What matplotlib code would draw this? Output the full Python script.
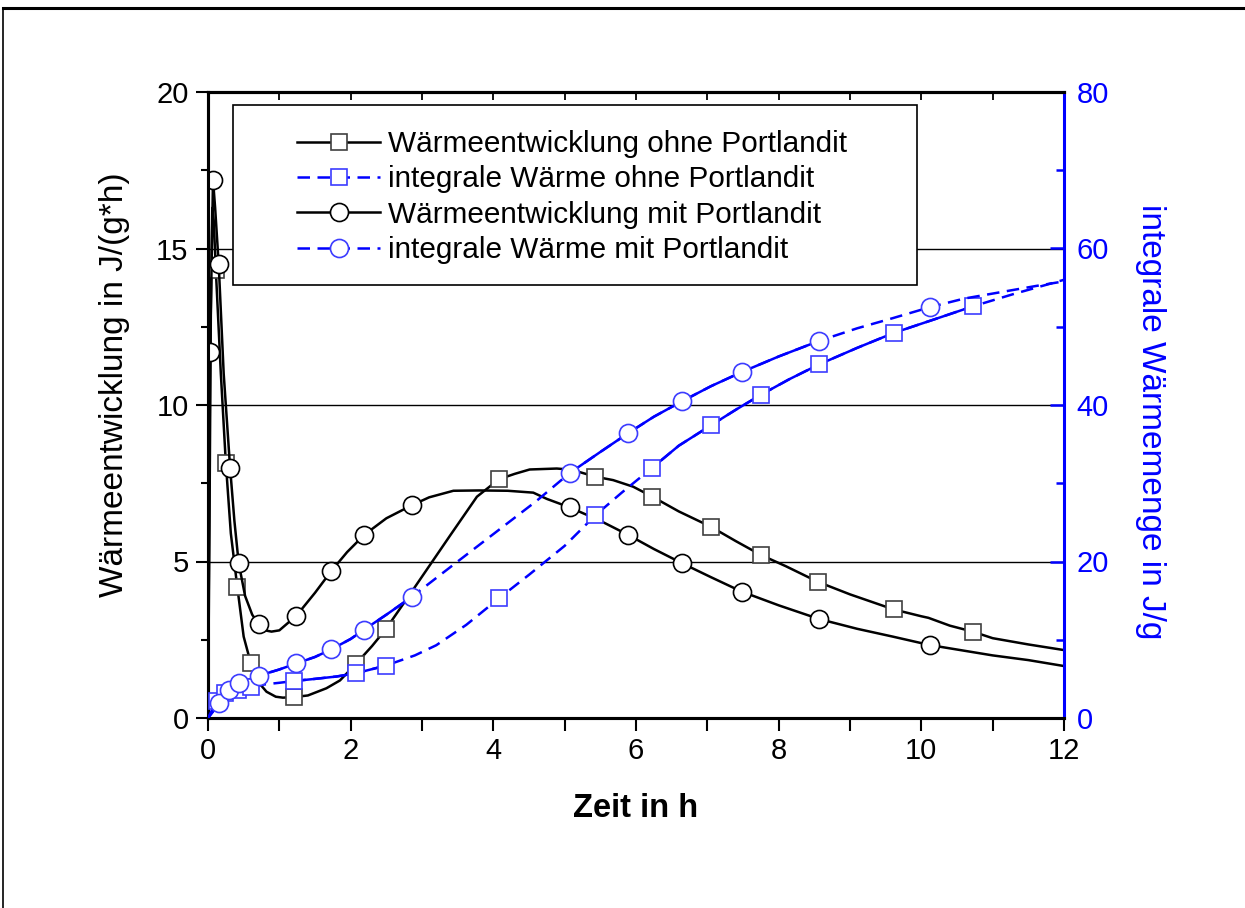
import numpy as np
import matplotlib.pyplot as plt
from matplotlib.lines import Line2D
from matplotlib.patches import Rectangle
from matplotlib.ticker import MultipleLocator

plt.rcParams['font.family'] = ['Liberation Sans', 'DejaVu Sans']

# Wärmeentwicklung ohne Portlandit, J/(g*h)
t_ohne = np.array([0, 0.02, 0.04, 0.06, 0.08, 0.11, 0.18, 0.25, 0.32, 0.41, 0.5, 0.6, 0.7, 0.82,
                   0.95, 1.05, 1.21, 1.4, 1.66, 1.85, 2.07, 2.3, 2.49, 2.8, 3.1, 3.4, 3.77, 4.08,
                   4.3, 4.51, 4.89, 5.1, 5.43, 5.68, 5.96, 6.23, 6.6, 7.05, 7.4, 7.75, 8.1, 8.55,
                   9.0, 9.61, 10.0, 10.1, 10.4, 10.72, 11.0, 11.5, 12.0])
q_ohne = np.array([0, 6.0, 13.0, 16.3, 15.9, 14.3, 11.0, 8.15, 5.9, 4.2, 2.6, 1.75, 1.16, 0.84,
                   0.68, 0.65, 0.67, 0.72, 0.95, 1.2, 1.72, 2.3, 2.83, 3.85, 4.85, 5.85, 7.07, 7.63,
                   7.8, 7.94, 7.97, 7.93, 7.71, 7.6, 7.39, 7.07, 6.6, 6.11, 5.65, 5.21, 4.85, 4.35,
                   3.95, 3.47, 3.25, 3.2, 2.95, 2.76, 2.55, 2.35, 2.17])
mk_ohne = [0.11, 0.25, 0.41, 0.6, 1.21, 2.07, 2.49, 4.08, 5.43, 6.23, 7.05, 7.75, 8.55, 9.61, 10.72]

# Wärmeentwicklung mit Portlandit, J/(g*h)
t_mit = np.array([0, 0.03, 0.07, 0.1, 0.15, 0.22, 0.31, 0.37, 0.43, 0.52, 0.62, 0.71, 0.8, 0.89,
                  1.0, 1.24, 1.5, 1.73, 1.95, 2.19, 2.5, 2.86, 3.1, 3.44, 3.8, 4.2, 4.56, 4.75,
                  5.07, 5.5, 5.89, 6.25, 6.65, 7.05, 7.48, 8.0, 8.57, 9.1, 9.6, 10.12, 10.6, 11.0,
                  11.5, 12.0])
q_mit = np.array([0, 11.7, 17.2, 16.3, 14.5, 11.0, 7.99, 6.3, 4.95, 3.9, 3.3, 3.0, 2.8, 2.76,
                  2.8, 3.27, 4.0, 4.7, 5.3, 5.85, 6.38, 6.8, 7.05, 7.26, 7.27, 7.26, 7.2, 7.0,
                  6.73, 6.3, 5.85, 5.4, 4.94, 4.5, 4.04, 3.6, 3.16, 2.85, 2.6, 2.33, 2.15, 2.0,
                  1.85, 1.66])
mk_mit = [0.03, 0.07, 0.15, 0.31, 0.43, 0.71, 1.24, 1.73, 2.19, 2.86, 5.07, 5.89, 6.65, 7.48,
          8.57, 10.12]

# integrale Wärme ohne Portlandit, J/g
ti_ohne = np.array([0, 0.05, 0.12, 0.24, 0.42, 0.6, 0.8, 1.0, 1.21, 1.5, 1.8, 2.07, 2.49, 2.9,
                    3.2, 3.62, 4.08, 4.5, 5.0, 5.43, 5.8, 6.23, 6.6, 7.05, 7.4, 7.75, 8.15, 8.57,
                    9.1, 9.61, 10.2, 10.72, 11.3, 12.0])
Q_ohne = np.array([0, 0.9, 2.2, 3.16, 3.58, 4.0, 4.3, 4.5, 4.73, 5.0, 5.3, 5.71, 6.69, 8.0,
                   9.3, 11.9, 15.3, 18.3, 22.0, 25.9, 28.8, 32.0, 34.8, 37.4, 39.4, 41.3, 43.3, 45.2,
                   47.3, 49.2, 51.0, 52.6, 54.2, 56.0])
mki_ohne = [0.12, 0.24, 0.42, 0.6, 1.21, 2.07, 2.49, 4.08, 5.43, 6.23, 7.05, 7.75, 8.57, 9.61, 10.72]
solid_ohne = [(1.21, 2.49), (6.23, 10.72)]

# integrale Wärme mit Portlandit, J/g
ti_mit = np.array([0, 0.05, 0.16, 0.3, 0.44, 0.71, 1.0, 1.24, 1.5, 1.73, 2.0, 2.19, 2.5, 2.86,
                   3.3, 3.7, 4.1, 4.6, 5.07, 5.5, 5.89, 6.25, 6.65, 7.05, 7.48, 8.0, 8.57, 9.1,
                   9.6, 10.12, 10.6, 11.1, 11.6, 12.0])
Q_mit = np.array([0, 0.6, 1.88, 3.58, 4.43, 5.4, 6.2, 6.98, 7.8, 8.78, 10.1, 11.3, 13.2, 15.5,
                  18.6, 21.4, 24.2, 27.7, 31.3, 34.0, 36.4, 38.5, 40.5, 42.4, 44.2, 46.2, 48.2, 49.8,
                  51.1, 52.5, 53.6, 54.4, 55.2, 55.8])
mki_mit = [0.16, 0.3, 0.44, 0.71, 1.24, 1.73, 2.19, 2.86, 5.07, 5.89, 6.65, 7.48, 8.57, 10.12]
solid_mit = [(0.0, 2.86), (5.07, 8.57)]

labels = ['Wärmeentwicklung ohne Portlandit', 'integrale Wärme ohne Portlandit',
          'Wärmeentwicklung mit Portlandit', 'integrale Wärme mit Portlandit']

BLUE = '#0000ff'
MBLUE = '#3c3cff'


def idx(t, marks):
    return [int(np.argmin(np.abs(t - m))) for m in marks]


fig = plt.figure(figsize=(12.45, 9.08), dpi=100)
ax = fig.add_axes([208 / 1245, 1 - 718 / 908, 856 / 1245, 626 / 908])
ax2 = ax.twinx()

sq = dict(marker='s', markersize=11, markerfacecolor='white', markeredgewidth=1.2)
ci = dict(marker='o', markersize=13, markerfacecolor='white', markeredgewidth=1.2)

h1, = ax.plot(t_ohne, q_ohne, '-', color='black', lw=1.8, markevery=idx(t_ohne, mk_ohne),
              markeredgecolor='#404040', zorder=3, **sq)
h3, = ax.plot(t_mit, q_mit, '-', color='black', lw=1.8, markevery=idx(t_mit, mk_mit),
              markeredgecolor='black', zorder=3, **ci)

h2, = ax2.plot(ti_ohne, Q_ohne, color=BLUE, lw=1.8, dashes=(5, 3), markevery=idx(ti_ohne, mki_ohne),
               markeredgecolor=MBLUE, zorder=3, **sq)
h4, = ax2.plot(ti_mit, Q_mit, color=BLUE, lw=1.8, dashes=(5, 3), markevery=idx(ti_mit, mki_mit),
               markeredgecolor=MBLUE, zorder=3, **ci)
for t, Q, spans in [(ti_ohne, Q_ohne, solid_ohne), (ti_mit, Q_mit, solid_mit)]:
    for a, b in spans:
        m = (t >= a - 1e-9) & (t <= b + 1e-9)
        ax2.plot(t[m], Q[m], '-', color=BLUE, lw=1.8, zorder=2)

# axes limits and ticks
ax.set_xlim(0, 12)
ax.set_ylim(0, 20)
ax2.set_ylim(0, 80)
ax.xaxis.set_major_locator(MultipleLocator(2))
ax.xaxis.set_minor_locator(MultipleLocator(1))
ax.yaxis.set_major_locator(MultipleLocator(5))
ax.yaxis.set_minor_locator(MultipleLocator(2.5))
ax2.yaxis.set_major_locator(MultipleLocator(20))
ax2.yaxis.set_minor_locator(MultipleLocator(10))

ax.tick_params(axis='both', which='major', direction='out', length=9, width=1.5,
               labelsize=21, pad=5)
ax.tick_params(axis='both', which='minor', direction='out', length=9, width=1.5)
ax.tick_params(axis='y', which='minor', length=5)
ax.tick_params(axis='y', right=False, which='both')
ax2.tick_params(axis='y', which='major', direction='in', length=10, width=1.8,
                colors=BLUE, labelsize=21, pad=9)
ax2.tick_params(axis='y', which='minor', direction='in', length=6, width=1.8, colors=BLUE)

top = ax.secondary_xaxis('top')
top.xaxis.set_major_locator(MultipleLocator(1))
top.tick_params(direction='in', length=6, width=1.3, labeltop=False)
top.spines['top'].set_linewidth(2.2)

for s in ['left', 'bottom', 'top']:
    ax.spines[s].set_linewidth(2.2)
    ax2.spines[s].set_linewidth(2.2)
ax2.spines['right'].set_linewidth(2.2)
ax2.spines['right'].set_color(BLUE)

ax.grid(axis='y', which='major', color='black', lw=1.0)
ax.set_axisbelow(True)

ax.set_xlabel('Zeit in h', fontsize=23.5, fontweight='bold', labelpad=20)
ax.set_ylabel('Wärmeentwicklung in J/(g*h)', fontsize=24, labelpad=19)
ax.yaxis.label.set_y(0.532)
ax2.set_ylabel('integrale Wärmemenge in J/g', fontsize=24, color=BLUE, rotation=270, labelpad=41)
ax2.yaxis.label.set_y(0.473)

# legend box
ax2.add_patch(Rectangle((25 / 856, (718 - 285) / 626), 684 / 856, 180 / 626,
                        transform=ax2.transAxes, facecolor='white', edgecolor='black',
                        lw=1.2, zorder=5))
leg = ax2.legend([h1, h2, h3, h4], labels, loc='upper left', frameon=False,
                 bbox_to_anchor=(89 / 856, (718 - 130) / 626), borderpad=0, borderaxespad=0,
                 fontsize=21.4, handlelength=2.8, handletextpad=0.27, labelspacing=0.25)
leg.set_zorder(6)

# outer frame
fig.add_artist(Line2D([3 / 1245, 1], [1 - 7.5 / 908] * 2, transform=fig.transFigure,
                      color='black', lw=2.2))
fig.add_artist(Line2D([3 / 1245] * 2, [0, 1 - 7.5 / 908], transform=fig.transFigure,
                      color='black', lw=1.2))

fig.savefig('out.png', dpi=100)
